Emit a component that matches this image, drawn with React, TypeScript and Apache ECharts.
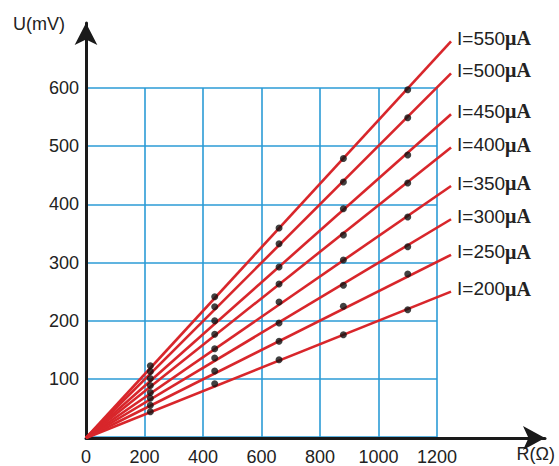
import React, { useEffect, useRef } from "react";
import * as echarts from "echarts";

const resistances = [220, 440, 660, 880, 1100];
const currents = [550, 500, 450, 400, 350, 300, 250, 200];
const measured: number[][] = [
  [124, 242, 360, 479, 597],
  [114, 225, 333, 439, 549],
  [102, 201, 293, 393, 485],
  [90, 178, 264, 348, 437],
  [78, 153, 233, 305, 379],
  [68, 137, 197, 262, 328],
  [56, 115, 166, 226, 281],
  [45, 93, 134, 177, 220],
];
const lineEndR = 1248;
const lineEndU = [680, 625, 555, 498, 432, 375, 314, 251];
const xTicks = [0, 200, 400, 600, 800, 1000, 1200];
const yTicks = [0, 100, 200, 300, 400, 500, 600];

const SANS = "'Liberation Sans', Arial, Helvetica, sans-serif";

// plot frame (pixels) for the 0..1200 x 0..600 gridded area
const LEFT = 86;
const BOTTOM = 28;
const PLOT_W = 351;
const PLOT_H = 350;
const H = 466;
const W = 559;
// extended frame used for marks that spill past the grid box
const EXT_X = 1300;
const EXT_Y = 700;

export default function App() {
  const ref = useRef<HTMLDivElement>(null);
  useEffect(() => {
    if (!ref.current) return;
    document.body.style.margin = "0";
    document.body.style.overflow = "hidden";
    const chart = echarts.init(ref.current, undefined, { renderer: "svg" });
    const xMax = xTicks[xTicks.length - 1];
    const yMax = yTicks[yTicks.length - 1];
    const extW = (PLOT_W * EXT_X) / xMax;
    const extH = (PLOT_H * EXT_Y) / yMax;

    const lineSeries = currents.map((I, i) => ({
      type: "line",
      name: `I=${I}μA`,
      xAxisIndex: 2,
      yAxisIndex: 2,
      symbol: "none",
      silent: true,
      z: 3,
      lineStyle: { color: "#d8262b", width: 2.6 },
      endLabel: {
        show: true,
        distance: 6,
        offset: [0, -3],
        formatter: `{a|I=${I}}{b|μA}`,
        rich: {
          a: { fontFamily: SANS, fontSize: 19, color: "#222" },
          b: {
            fontFamily: "'Liberation Serif', 'Times New Roman', serif",
            fontWeight: "bold",
            fontSize: 20,
            color: "#222",
          },
        },
      },
      data: [
        [0, 0],
        [lineEndR, lineEndU[i]],
      ],
    }));
    const dotSeries = currents.map((I, i) => ({
      type: "scatter",
      name: `I=${I}μA measured`,
      xAxisIndex: 2,
      yAxisIndex: 2,
      symbol: "circle",
      symbolSize: 7,
      z: 4,
      itemStyle: { color: "#111" },
      data: resistances.map((r, k) => [r, measured[i][k]]),
    }));
    const hiddenAxis = (gridIndex: number, max: number) => ({
      type: "value",
      gridIndex,
      min: 0,
      max,
      show: false,
      splitLine: { show: false },
    });
    const arrowAxis = (gridIndex: number, size: number[]) => ({
      type: "value",
      gridIndex,
      min: 0,
      max: 1,
      axisLine: {
        show: true,
        symbol: ["none", "arrow"],
        symbolSize: size,
        lineStyle: { color: "#1a1a1a", width: 3 },
      },
      axisTick: { show: false },
      axisLabel: { show: false },
      splitLine: { show: false },
    });
    chart.setOption({
      animation: false,
      backgroundColor: "#fff",
      grid: [
        { left: LEFT, top: H - BOTTOM - PLOT_H, width: PLOT_W, height: PLOT_H },
        { left: LEFT, right: 14, top: 23, bottom: BOTTOM },
        { left: LEFT, top: H - BOTTOM - extH, width: extW, height: extH },
      ],
      xAxis: [
        {
          type: "value",
          gridIndex: 0,
          min: xTicks[0],
          max: xMax,
          interval: 200,
          axisLine: { show: false },
          axisTick: { show: false },
          axisLabel: {
            margin: 11,
            fontFamily: SANS,
            fontSize: 18,
            color: "#222",
            formatter: (v: number) => String(v),
          },
          splitLine: { show: true, lineStyle: { color: "#2b9bd6", width: 1.6 } },
        },
        arrowAxis(1, [18, 22]),
        hiddenAxis(2, EXT_X),
      ],
      yAxis: [
        {
          type: "value",
          gridIndex: 0,
          min: yTicks[0],
          max: yMax,
          interval: 100,
          axisLine: { show: false },
          axisTick: { show: false },
          axisLabel: {
            margin: 7,
            fontFamily: SANS,
            fontSize: 18,
            color: "#222",
            formatter: (v: number) => (v === 0 ? "" : String(v)),
          },
          splitLine: { show: true, lineStyle: { color: "#2b9bd6", width: 1.6 } },
        },
        arrowAxis(1, [17, 22]),
        hiddenAxis(2, EXT_Y),
      ],
      graphic: [
        {
          type: "text",
          x: 13,
          y: 15,
          style: { text: "U(mV)", fontFamily: SANS, fontSize: 18, fill: "#222" },
        },
        {
          type: "text",
          x: W - 4,
          y: 445,
          style: {
            text: "R(Ω)",
            fontFamily: SANS,
            fontSize: 18,
            fill: "#222",
            textAlign: "right",
          },
        },
      ],
      series: [...lineSeries, ...dotSeries],
    });
    return () => chart.dispose();
  }, []);
  return <div ref={ref} style={{ width: W, height: H }} />;
}
